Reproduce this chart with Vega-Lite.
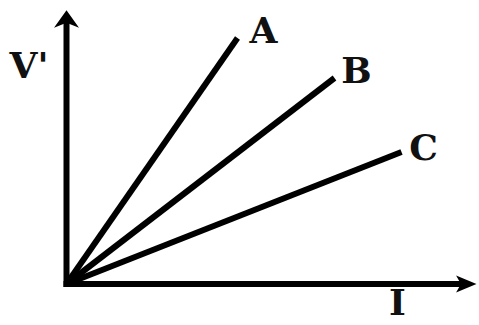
{
  "$schema": "https://vega.github.io/schema/vega-lite/v6.json",
  "width": 479,
  "height": 325,
  "padding": 0,
  "autosize": {"type": "none"},
  "background": "white",
  "config": {"view": {"stroke": null}},
  "datasets": {
    "lines": [
      {"name": "A", "I": 0, "V": 0},
      {"name": "A", "I": 171, "V": 246},
      {"name": "B", "I": 0, "V": 0},
      {"name": "B", "I": 268, "V": 206},
      {"name": "C", "I": 0, "V": 0},
      {"name": "C", "I": 335, "V": 132}
    ],
    "axes": [
      {"axis": "V", "I": 0, "V": 0},
      {"axis": "V", "I": 0, "V": 260},
      {"axis": "I", "I": 0, "V": 0},
      {"axis": "I", "I": 396, "V": 0}
    ],
    "heads": [
      {"dir": "up", "I": 0, "V": 265},
      {"dir": "right", "I": 398, "V": 0}
    ],
    "labels": [
      {"text": "A", "I": 197, "V": 241},
      {"text": "B", "I": 290, "V": 201},
      {"text": "C", "I": 357, "V": 124},
      {"text": "I", "I": 331, "V": -31}
    ],
    "vlabel": [
      {"text": "V'", "I": -57, "V": 206}
    ]
  },
  "encoding": {
    "x": {"field": "I", "type": "quantitative", "scale": {"domain": [-66.5, 412.5], "nice": false, "zero": false}, "axis": null},
    "y": {"field": "V", "type": "quantitative", "scale": {"domain": [-41, 284], "nice": false, "zero": false}, "axis": null}
  },
  "layer": [
    {
      "data": {"name": "axes"},
      "mark": {"type": "line", "color": "black", "strokeWidth": 6, "strokeCap": "square"},
      "encoding": {"detail": {"field": "axis"}}
    },
    {
      "data": {"name": "lines"},
      "mark": {"type": "line", "color": "black", "strokeWidth": 6, "strokeCap": "butt"},
      "encoding": {"detail": {"field": "name"}}
    },
    {
      "data": {"name": "heads"},
      "transform": [{"filter": "datum.dir === 'up'"}],
      "mark": {"type": "point", "filled": true, "color": "black", "opacity": 1, "size": 625, "shape": "M0,-0.7L1,0.7L0,0.3L-1,0.7Z"}
    },
    {
      "data": {"name": "heads"},
      "transform": [{"filter": "datum.dir === 'right'"}],
      "mark": {"type": "point", "filled": true, "color": "black", "opacity": 1, "size": 576, "shape": "M1,0L-0.7,0.7L-0.3,0L-0.7,-0.7Z"}
    },
    {
      "data": {"name": "labels"},
      "mark": {"type": "text", "font": "DejaVu Serif", "fontWeight": "bold", "fontSize": 36, "align": "center", "baseline": "alphabetic", "color": "#111"},
      "encoding": {"text": {"field": "text"}}
    },
    {
      "data": {"name": "vlabel"},
      "mark": {"type": "text", "font": "DejaVu Serif", "fontWeight": "bold", "fontSize": 36, "align": "left", "baseline": "alphabetic", "color": "#111"},
      "encoding": {"text": {"field": "text"}}
    }
  ]
}
